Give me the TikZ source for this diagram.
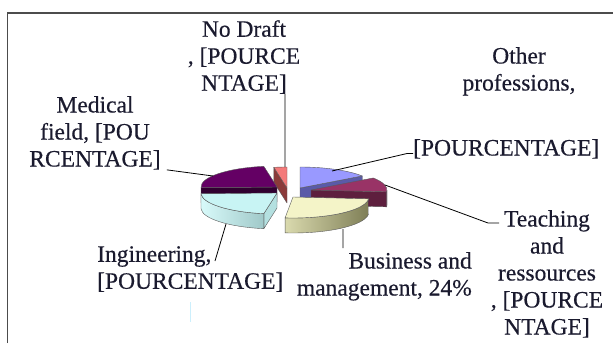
\documentclass[tikz,border=0pt]{standalone}
\usepackage{fontspec}
\setmainfont[FakeBold=0.4]{Liberation Serif}
\usetikzlibrary{calc}
\usetikzlibrary{positioning}

\definecolor{othtop}{HTML}{9999FF}
\definecolor{othface}{HTML}{5A5AA8}
\definecolor{teatop}{HTML}{993366}
\definecolor{teaside}{HTML}{5E1F3E}
\definecolor{bustop}{HTML}{F4F4C8}
\definecolor{busleft}{HTML}{DADAAE}
\definecolor{busright}{HTML}{7E7E56}
\definecolor{ingtop}{HTML}{C8F4F4}
\definecolor{ingleft}{HTML}{D8FAFA}
\definecolor{ingright}{HTML}{94BEBE}
\definecolor{ingface}{HTML}{B4E0E0}
\definecolor{medtop}{HTML}{640064}
\definecolor{medface}{HTML}{300030}
\definecolor{ndtop}{HTML}{F47A7A}
\definecolor{ndface}{HTML}{8B3A3A}
\definecolor{lbltext}{HTML}{1A1A2E}

\tikzset{
    piece/.style={draw=black!65, line width=0.4pt, line join=round},
    lbl/.style={font=\fontsize{23.5}{27}\selectfont, inner sep=0pt, text=lbltext},
    leader/.style={draw=black, line width=0.8pt},
    frame/.style={draw=black!70, line width=1.5pt}
}

\newcommand{\slicetop}[4]{%
    \path[piece, fill=#4] (#1) -- ++(#2:76 and 21)
        arc[start angle=#2, end angle=#3, x radius=76, y radius=21] -- cycle;}
\newcommand{\sliceside}[4]{%
    \path[piece, #4] (#1) ++(#2:76 and 21)
        arc[start angle=#2, end angle=#3, x radius=76, y radius=21] -- ++(0,15)
        arc[start angle=#3, end angle=#2, x radius=76, y radius=21] -- cycle;}
\newcommand{\sliceface}[3]{%
    \path[piece, fill=#3] (#1) -- ++(#2:76 and 21) -- ++(0,15)
        -- ($ (#1) + (0,15) $) -- cycle;}

\begin{document}
\begin{tikzpicture}[x=1pt, y=-1pt]
        \useasboundingbox (0,0) rectangle (613,343);
        \draw[frame] (7.5,343) -- (7.5,13) -- (613,13);

        \coordinate (aoth) at (300,188);
        \coordinate (anod) at (287,188);
        \coordinate (amed) at (277,187);
        \coordinate (atea) at (311,190);
        \coordinate (aing) at (277,193);
        \coordinate (abus) at (293,197);

        \sliceface{aoth}{-35}{othface}
        \slicetop{aoth}{-90}{-35}{othtop}

        \sliceface{anod}{260}{ndface}
        \slicetop{anod}{260}{270}{ndtop}

        \sliceface{amed}{178}{medface}
        \slicetop{amed}{178}{260}{medtop}

        \sliceface{atea}{5}{teaside}
        \sliceside{atea}{0}{5}{fill=teaside}
        \slicetop{atea}{-35}{5}{teatop}

        \sliceface{aing}{100}{ingface}
        \sliceside{aing}{100}{178}{left color=ingleft, right color=ingright}
        \slicetop{aing}{100}{178}{ingtop}

        \sliceside{abus}{5}{96}{left color=busleft, right color=busright}
        \slicetop{abus}{5}{96}{bustop}

        \begin{scope}[every node/.style={lbl}]
            \node[align=center, anchor=north] (nodraft) at (244,20) {No Draft\\, [POURCE\\NTAGE]};
            \node[align=center, anchor=north] (other) at (519,47) {Other\\professions,};
            \node[anchor=north west] (otherpct) at (413,139) {[POURCENTAGE]};
            \node[align=center, anchor=north] (medical) at (95,96) {Medical\\field, [POU\\RCENTAGE]};
            \node[align=left, anchor=north west] (ingin) at (97,246) {Ingineering,\\{[}POURCENTAGE]};
            \node[align=right, anchor=north east] (business) at (472,252) {Business and\\management, 24\%};
            \node[align=center, anchor=north] (teaching) at (547,210) {Teaching\\and\\ressources\\, [POURCE\\NTAGE]};
        \end{scope}

        \coordinate (pnod) at (285,167);
        \coordinate (poth) at (332,171);
        \coordinate (ptea) at (385,185);
        \coordinate (pmed) at (213,176);
        \coordinate (ping) at (226,224);
        \coordinate (pbus) at (343,229);
        \coordinate (ltea) at (499,223);
        \coordinate (ling) at (215,261);
        \coordinate (lbus) at (343,248);

        \draw[leader]
            (pnod) -- (pnod |- nodraft.south)
            (poth) -- ([xshift=-6pt, yshift=2pt]otherpct.base west) -- ([yshift=2pt]otherpct.base west)
            (ptea) -- ([xshift=-11pt]ltea) -- (ltea)
            (pmed) -- ([xshift=6pt]medical.south east)
            (ping) -- (ling)
            (pbus) -- (lbus);

        \draw[cyan!20, line width=1pt] (190,302) -- (190,322);
\end{tikzpicture}
\end{document}
